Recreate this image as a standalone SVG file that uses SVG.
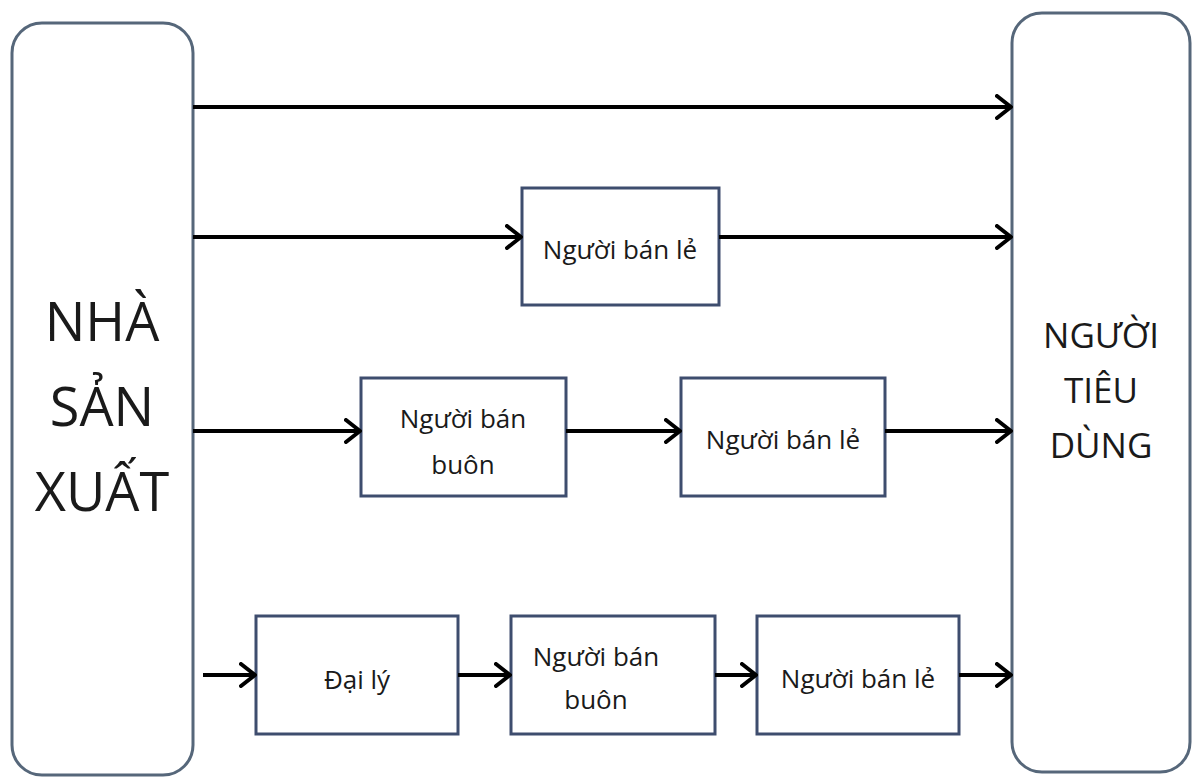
<svg xmlns="http://www.w3.org/2000/svg" width="1192" height="778" viewBox="0 0 1192 778">
<style>
.big{fill:#fff;stroke:#56677a;stroke-width:3}
.box{fill:#fff;stroke:#3e4d6e;stroke-width:3}
.t{font-family:"Open Sans","Noto Sans",sans-serif;fill:#1a1a1a;text-anchor:middle}
.s{font-size:26px}
.conn line{stroke:#000;stroke-width:4;marker-end:url(#ah)}
</style>
<defs>
<marker id="ah" markerUnits="userSpaceOnUse" viewBox="0 0 18 26" refX="16" refY="13" markerWidth="18" markerHeight="26" orient="auto">
<path d="M2,2 L16,13 L2,24" fill="none" stroke="#000" stroke-width="4" stroke-linecap="round" stroke-linejoin="round"/>
</marker>
</defs>
<rect width="1192" height="778" fill="#fff"/>
<g id="nha-san-xuat">
<rect class="big" x="12" y="23" width="181" height="752" rx="30"/>
<text class="t" font-size="54" x="102" y="341">NHÀ</text>
<text class="t" font-size="54" x="102" y="426">SẢN</text>
<text class="t" font-size="54" x="102" y="511">XUẤT</text>
</g>
<g id="nguoi-tieu-dung">
<rect class="big" x="1012" y="13" width="178" height="759" rx="30"/>
<text class="t" font-size="35" x="1101" y="348">NGƯỜI</text>
<text class="t" font-size="35" x="1101" y="403">TIÊU</text>
<text class="t" font-size="35" x="1101" y="458">DÙNG</text>
</g>
<g id="ban-le-2">
<rect class="box" x="522" y="188" width="197" height="117"/>
<text class="t s" x="620" y="259">Người bán lẻ</text>
</g>
<g id="ban-buon-3">
<rect class="box" x="361" y="378" width="205" height="118"/>
<text class="t s" x="463" y="428">Người bán</text>
<text class="t s" x="463" y="474">buôn</text>
</g>
<g id="ban-le-3">
<rect class="box" x="681" y="378" width="204" height="118"/>
<text class="t s" x="783" y="449">Người bán lẻ</text>
</g>
<g id="dai-ly-4">
<rect class="box" x="256" y="616" width="202" height="118"/>
<text class="t s" x="357" y="689">Đại lý</text>
</g>
<g id="ban-buon-4">
<rect class="box" x="511" y="616" width="204" height="118"/>
<text class="t s" x="596" y="666">Người bán</text>
<text class="t s" x="596" y="709">buôn</text>
</g>
<g id="ban-le-4">
<rect class="box" x="757" y="616" width="202" height="118"/>
<text class="t s" x="858" y="688">Người bán lẻ</text>
</g>
<g id="connectors" class="conn">
<line x1="193" y1="107" x2="1011" y2="107"/>
<line x1="193" y1="237" x2="521" y2="237"/>
<line x1="719" y1="237" x2="1011" y2="237"/>
<line x1="193" y1="431" x2="360" y2="431"/>
<line x1="566" y1="431" x2="680" y2="431"/>
<line x1="885" y1="431" x2="1011" y2="431"/>
<line x1="203" y1="675" x2="255" y2="675"/>
<line x1="458" y1="675" x2="510" y2="675"/>
<line x1="715" y1="675" x2="756" y2="675"/>
<line x1="959" y1="675" x2="1011" y2="675"/>
</g>
</svg>
